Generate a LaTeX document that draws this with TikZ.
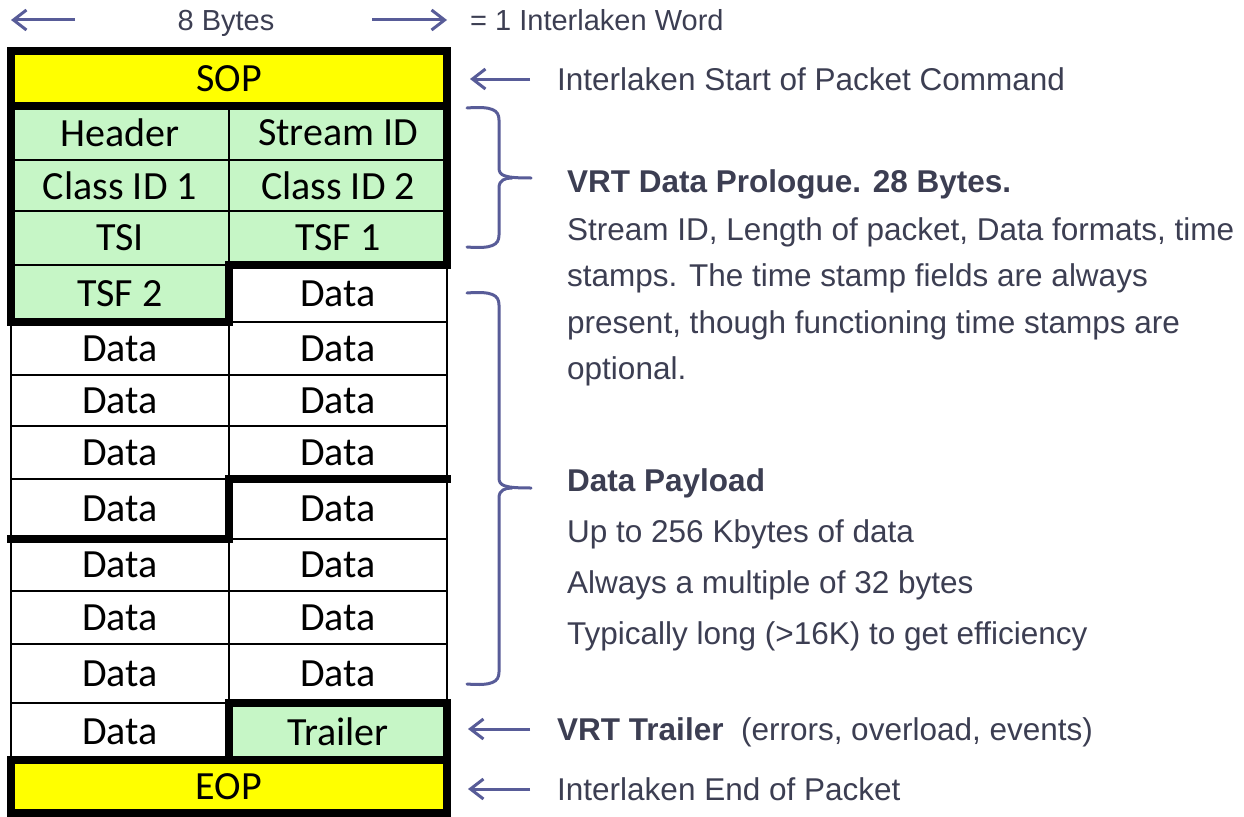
\documentclass[tikz,border=0pt]{standalone}
\usepackage{fontspec}
\setmainfont{Liberation Sans}
\newfontfamily\cellfont{Carlito}
\usetikzlibrary{arrows.meta}
\definecolor{sopyellow}{RGB}{255,255,0}
\definecolor{prologgreen}{RGB}{198,246,198}
\definecolor{notegray}{RGB}{60,62,82}
\definecolor{arrowblue}{RGB}{88,92,152}

\begin{document}
\begin{tikzpicture}[x=1pt, y=-1pt,
        cell/.style={draw, line width=2.5pt, inner sep=0pt, outer sep=0pt, minimum width=218, font=\cellfont\fontsize{40}{40}\selectfont},
        pcell/.style={fill=prologgreen},
        word/.style={cell, line width=7.5pt, minimum width=436, fill=sopyellow},
        heavyline/.style={line width=7.5pt, line cap=rect, line join=miter},
        toplabel/.style={inner sep=0pt, text height=21pt, text depth=0pt, text=notegray, font=\fontsize{29}{29}\selectfont},
        note/.style={anchor=west, inner sep=0pt, text height=22pt, text depth=0pt, text=notegray, font=\fontsize{31.5}{31.5}\selectfont},
        body/.style={anchor=base west, inner sep=0pt, text=notegray, font=\fontsize{31.5}{31.5}\selectfont},
        bold/.style={font=\bfseries\fontsize{31.5}{31.5}\selectfont},
        pointer/.style={-{Straight Barb[length=13pt,width=20pt]}, line width=3pt, arrowblue},
        brace/.style={line width=3pt, arrowblue, line cap=round}
    ]
    \path[use as bounding box, fill=white] (0,0) rectangle (1244,816);
    % Start of packet
    \node[word, minimum height=55] (sop) at (229,78.5) {SOP};
    % Prologue
    \node[cell, pcell, minimum height=54] (l1) at (120,133) {Header};
    \node[cell, pcell, minimum height=54] (r1) at (338,133) {Stream ID};
    \node[cell, pcell, minimum height=51] (l2) at (120,185.5) {Class ID 1};
    \node[cell, pcell, minimum height=51] (r2) at (338,185.5) {Class ID 2};
    \node[cell, pcell, minimum height=54] (l3) at (120,238) {TSI};
    \node[cell, pcell, minimum height=54] (r3) at (338,238) {TSF 1};
    \node[cell, pcell, minimum height=57] (l4) at (120,293.5) {TSF 2};
    \node[cell, minimum height=57] (r4) at (338,293.5) {Data};
    % Payload
    \foreach \r/\yc/\h in {5/348.5/53, 6/400.5/51, 7/452.5/53, 8/509/60, 9/565/52, 10/617.5/53, 11/673.5/59} {
        \node[cell, minimum height=\h] (l\r) at (120,\yc) {Data};
        \node[cell, minimum height=\h] (r\r) at (338,\yc) {Data};
    }
    \node[cell, minimum height=57] (l12) at (120,731.5) {Data};
    \node[cell, pcell, minimum height=57] (r12) at (338,731.5) {Trailer};
    % End of packet
    \node[word, minimum height=53] (eop) at (229,786.5) {EOP};
    % Block borders
    \draw[heavyline] (l1.north west) -- (r1.north east) -- (r3.south east) -- (r3.south west)
        -- (l4.south east) -- (l4.south west) -- cycle;
    \draw[heavyline] (r8.north east) -- (r8.north west) -- (l8.south east) -- (l8.south west);
    \draw[heavyline] (r12.south west) -- (r12.north west) -- (r12.north east) -- (r12.south east);
    % Word width
    \node[toplabel] (bytes) at (226,20) {8 Bytes};
    \node[toplabel, anchor=west] (wordnote) at (470,20) {= 1 Interlaken Word};
    \coordinate (bl) at (75,20);
    \coordinate (br) at (372,20);
    \draw[pointer] (bl) -- (bl -| sop.west);
    \draw[pointer] (br) -- (br -| sop.east);
    % Notes
    \node[note] (sopnote) at (557,79) {Interlaken Start of Packet Command};
    \node[body, bold] (prolog) at (567,192) {VRT Data Prologue. 28 Bytes.};
    \node[body] (pl1) at (567,240) {Stream ID, Length of packet, Data formats, time};
    \node[body] (pl2) at (567,286.5) {stamps. The time stamp fields are always};
    \node[body] (pl3) at (567,333) {present, though functioning time stamps are};
    \node[body] (pl4) at (567,379.5) {optional.};
    \node[body, bold] (payload) at (567,491) {Data Payload};
    \node[body] (py1) at (567,542) {Up to 256 Kbytes of data};
    \node[body] (py2) at (567,593) {Always a multiple of 32 bytes};
    \node[body] (py3) at (567,644) {Typically long (>16K) to get efficiency};
    \node[note] (trlnote) at (557,729) {\textbf{VRT Trailer}\ \ (errors, overload, events)};
    \node[note] (eopnote) at (557,789) {Interlaken End of Packet};
    \draw[pointer] ([xshift=-27pt]sopnote.west) -- ++(-60,0);
    \draw[pointer] ([xshift=-27pt]trlnote.west) -- ++(-62,0);
    \draw[pointer] ([xshift=-27pt]eopnote.west) -- ++(-62,0);
    % Braces
    \draw[brace] (467,108) .. controls (492,106) and (499,110) .. (499,120) -- (499,168)
        .. controls (499,176) and (505,178) .. (531,178);
    \draw[brace] (467,247) .. controls (492,249) and (499,245) .. (499,235) -- (499,188)
        .. controls (499,180) and (505,178) .. (512,178);
    \draw[brace] (467,293) .. controls (492,291) and (499,295) .. (499,305) -- (499,478)
        .. controls (499,486) and (505,488) .. (531,488);
    \draw[brace] (467,684) .. controls (492,686) and (499,682) .. (499,672) -- (499,498)
        .. controls (499,490) and (505,488) .. (512,488);
\end{tikzpicture}
\end{document}
